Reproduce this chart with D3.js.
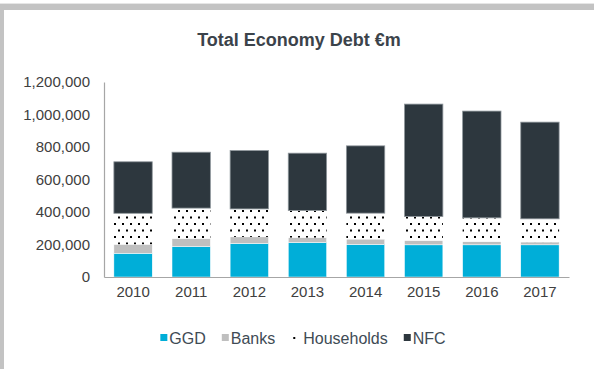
<!DOCTYPE html>
<html>
<head>
<meta charset="utf-8">
<script src="https://cdn.jsdelivr.net/npm/d3@7"></script>
<style>
  html, body { margin: 0; padding: 0; background: #fff; }
  svg { display: block; font-family: "Liberation Sans", Arial, sans-serif; }
</style>
</head>
<body>
<svg id="chart" width="594" height="369"></svg>
<script>
// Total economy debt by sector, € million
const years = ["2010", "2011", "2012", "2013", "2014", "2015", "2016", "2017"];
const ggd        = [146000, 187000, 206000, 212000, 200000, 198000, 198000, 198000];
const banks      = [ 55000,  50000,  41000,  31000,  33000,  27000,  20000,  17000];
const households = [191000, 187000, 172000, 166000, 160000, 147000, 146000, 143000];
const nfc        = [317000, 344000, 359000, 353000, 414000, 692000, 657000, 595000];
const seriesNames = ["GGD", "Banks", "Households", "NFC"];
const yTicks = [0, 200000, 400000, 600000, 800000, 1000000, 1200000];

const svg = d3.select("#chart");
const W = 594, H = 369;

// outer frame (top and left edges)
svg.append("rect").attr("x", 0).attr("y", 4).attr("width", W).attr("height", 6).attr("fill", "#c3c3c3");
svg.append("rect").attr("x", 0).attr("y", 3).attr("width", W).attr("height", 1).attr("fill", "#e6e6e6");
svg.append("rect").attr("x", 0).attr("y", 4).attr("width", 4).attr("height", H - 4).attr("fill", "#c3c3c3");

// dotted fill for households
const defs = svg.append("defs");
const pat = defs.append("pattern")
  .attr("id", "dots").attr("patternUnits", "userSpaceOnUse")
  .attr("width", 8).attr("height", 13);
pat.append("rect").attr("width", 8).attr("height", 13).attr("fill", "#fff");
pat.append("rect").attr("x", 2).attr("y", 2).attr("width", 2).attr("height", 2).attr("fill", "#000");
pat.append("rect").attr("x", 6).attr("y", 8.5).attr("width", 2).attr("height", 2).attr("fill", "#000");

const plotLeft = 104, plotRight = 569, plotTop = 82, plotBottom = 277;

const x = d3.scaleBand().domain(years).range([plotLeft, plotRight]).paddingInner(0.34).paddingOuter(0.17);
const y = d3.scaleLinear().domain([0, 1200000]).range([plotBottom, plotTop]);

const table = years.map((yr, i) => ({
  year: yr, GGD: ggd[i], Banks: banks[i], Households: households[i], NFC: nfc[i]
}));
const stacked = d3.stack().keys(seriesNames)(table);

const fills = { GGD: "#00aed8", Banks: "#bfbfbf", Households: "url(#dots)", NFC: "#2d373e" };
const strokes = { GGD: "#ffffff", Banks: "#ffffff", Households: "none", NFC: "#8e969b" };

// title
svg.append("text")
  .attr("x", 299).attr("y", 46)
  .attr("text-anchor", "middle")
  .attr("font-size", 18).attr("font-weight", "bold")
  .attr("fill", "#3b434a")
  .text("Total Economy Debt €m");

// bars
svg.append("g").selectAll("g")
  .data(stacked)
  .join("g")
  .attr("fill", d => fills[d.key])
  .attr("stroke", d => strokes[d.key])
  .attr("stroke-width", d => d.key === "NFC" ? 0.8 : 0.5)
  .selectAll("rect")
  .data(d => d)
  .join("rect")
  .attr("x", d => x(d.data.year))
  .attr("width", x.bandwidth())
  .attr("y", d => y(d[1]))
  .attr("height", d => y(d[0]) - y(d[1]));

// y axis
const yAxis = svg.append("g")
  .attr("transform", `translate(${plotLeft},0)`)
  .call(d3.axisLeft(y).tickValues(yTicks).tickSize(0).tickPadding(14)
    .tickFormat(d3.format(",")));
yAxis.select(".domain").attr("stroke", "#a6a6a6").attr("stroke-width", 1.2);
yAxis.selectAll("text").attr("font-size", 15).attr("fill", "#404040")
  .attr("font-family", "Liberation Sans, Arial, sans-serif");

// x axis
const xAxis = svg.append("g")
  .attr("transform", `translate(0,${plotBottom})`)
  .call(d3.axisBottom(x).tickSize(0).tickPadding(9));
xAxis.select(".domain").attr("stroke", "#a6a6a6").attr("stroke-width", 1.2);
xAxis.selectAll("text").attr("font-size", 15).attr("fill", "#404040")
  .attr("font-family", "Liberation Sans, Arial, sans-serif");

// legend
const legend = svg.append("g");
let cx = 0;
seriesNames.forEach(name => {
  const g = legend.append("g").attr("transform", `translate(${cx},0)`);
  if (name === "Households") {
    g.append("rect").attr("x", 2).attr("y", -1).attr("width", 2).attr("height", 2).attr("fill", "#000");
  } else {
    g.append("rect").attr("x", 0).attr("y", -4).attr("width", 7).attr("height", 7).attr("fill", fills[name]);
  }
  const t = g.append("text")
    .attr("x", name === "Households" ? 12 : 9).attr("y", 5.8)
    .attr("font-size", 16).attr("fill", "#404b55")
    .text(name);
  const w = t.node().getComputedTextLength() + (name === "Households" ? 12 : 9);
  cx += w + 16;
});
const legendW = cx - 16;
legend.attr("transform", `translate(${303 - legendW / 2},338)`);
</script>
</body>
</html>
